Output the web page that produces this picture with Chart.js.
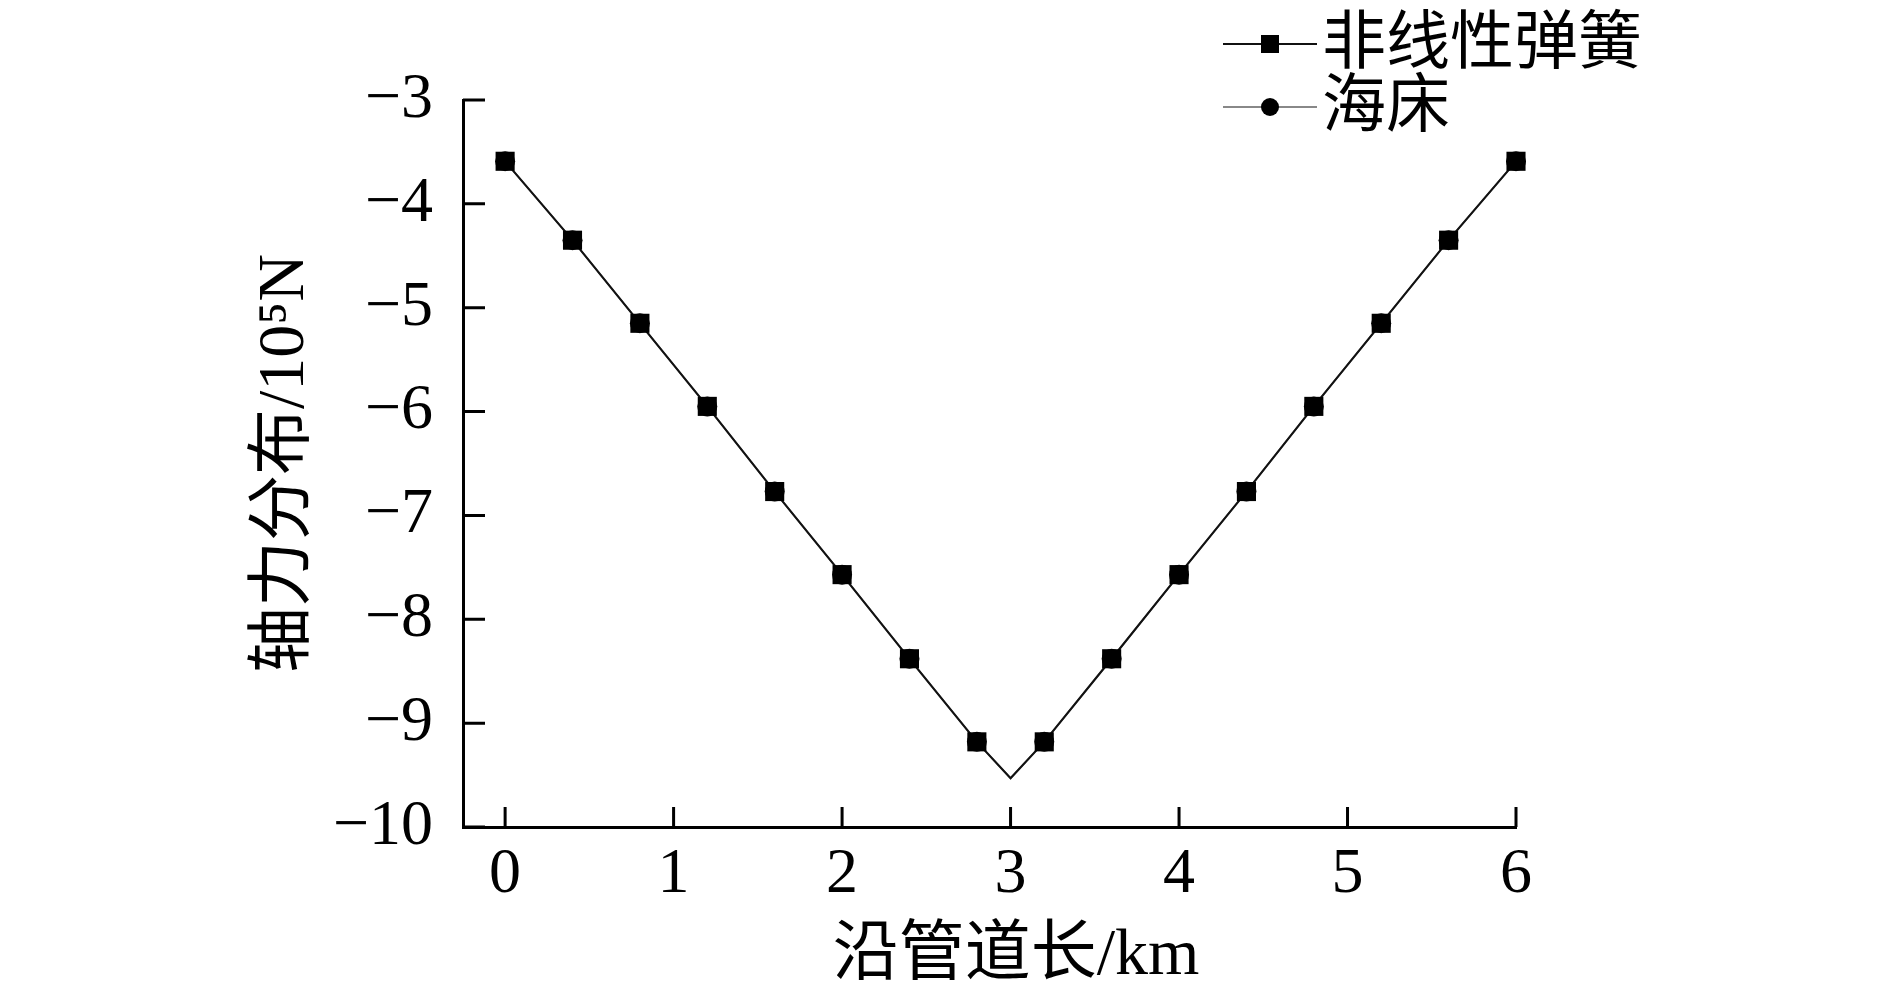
<!DOCTYPE html>
<html>
<head>
<meta charset="utf-8">
<script src="https://cdn.jsdelivr.net/npm/chart.js@4/dist/chart.umd.min.js"></script>
<style>
  body { margin: 0; background: #fff; }
  #wrap { width: 1890px; height: 1004px; }
</style>
</head>
<body>
<div id="wrap"><canvas id="chart" width="1890" height="1004"></canvas></div>
<script>
// distance along the pipe, km
const distance = [0, 0.4, 0.8, 1.2, 1.6, 2.0, 2.4, 2.8, 3.0, 3.2, 3.6, 4.0, 4.4, 4.8, 5.2, 5.6, 6.0];
// axial force, 10^5 N
const springForce = [-3.59, -4.35, -5.15, -5.95, -6.77, -7.57, -8.38, -9.18, -9.53, -9.18, -8.38, -7.57, -6.77, -5.95, -5.15, -4.35, -3.59];
const seabedForce = [-3.59, -4.35, -5.15, -5.95, -6.77, -7.57, -8.38, -9.18, -9.53, -9.18, -8.38, -7.57, -6.77, -5.95, -5.15, -4.35, -3.59];
const seriesNames = ["非线性弹簧", "海床"];
const xTicks = [0, 1, 2, 3, 4, 5, 6];
const yTicks = [-3, -4, -5, -6, -7, -8, -9, -10];
const xTitle = "沿管道长/km";
const yTitle = "轴力分布/10⁵N";

const FONT = '"Liberation Serif", "Noto Sans CJK SC", serif';

const toPoints = (vals) => vals.map((v, i) => ({ x: distance[i], y: v }));
// no marker on the vertex at 3 km
const markerSize = (r) => (ctx) => (distance[ctx.dataIndex] === 3.0 ? 0 : r);

// inward tick marks on both axes
const innerTicks = {
  id: "innerTicks",
  afterDatasetsDraw(chart) {
    const { ctx, chartArea, scales } = chart;
    ctx.save();
    ctx.strokeStyle = "#000";
    ctx.lineWidth = 3;
    ctx.beginPath();
    xTicks.forEach((t) => {
      const px = scales.x.getPixelForValue(t);
      ctx.moveTo(px, chartArea.bottom);
      ctx.lineTo(px, chartArea.bottom - 20);
    });
    yTicks.forEach((t) => {
      const py = scales.y.getPixelForValue(t);
      ctx.moveTo(chartArea.left, py);
      ctx.lineTo(chartArea.left + 22, py);
    });
    ctx.stroke();
    ctx.restore();
  },
};

// x title sits a bit right of the plot centre in the original
const bottomTitle = {
  id: "bottomTitle",
  afterDraw(chart) {
    const { ctx } = chart;
    ctx.save();
    ctx.fillStyle = "#000";
    ctx.font = "66px " + FONT;
    ctx.textAlign = "center";
    ctx.textBaseline = "middle";
    ctx.fillText(xTitle, 1016, 957);
    ctx.restore();
  },
};

// legend in the top right corner: line + marker + name
const cornerLegend = {
  id: "cornerLegend",
  afterDraw(chart) {
    const { ctx } = chart;
    const rows = [44, 107];
    ctx.save();
    chart.data.datasets.forEach((ds, i) => {
      const y = rows[i];
      ctx.strokeStyle = ds.borderColor;
      ctx.lineWidth = 2;
      ctx.beginPath();
      ctx.moveTo(1223, y);
      ctx.lineTo(1317, y);
      ctx.stroke();
      ctx.fillStyle = "#000";
      ctx.beginPath();
      if (ds.pointStyle === "rect") {
        ctx.rect(1261, y - 9, 18, 18);
      } else {
        ctx.arc(1270, y, 9, 0, Math.PI * 2);
      }
      ctx.fill();
      ctx.fillStyle = "#000";
      ctx.font = "64px " + FONT;
      ctx.textAlign = "left";
      ctx.textBaseline = "middle";
      ctx.fillText(ds.label, 1322, y + 2);
    });
    ctx.restore();
  },
};

new Chart(document.getElementById("chart"), {
  type: "line",
  data: {
    datasets: [
      {
        label: seriesNames[0],
        data: toPoints(springForce),
        borderColor: "#111",
        borderWidth: 2,
        pointStyle: "rect",
        pointRadius: markerSize(13.5),
        pointBackgroundColor: "#000",
        pointBorderWidth: 0,
        clip: false,
      },
      {
        label: seriesNames[1],
        data: toPoints(seabedForce),
        borderColor: "#888",
        borderWidth: 2,
        pointStyle: "circle",
        pointRadius: markerSize(10),
        pointBackgroundColor: "#000",
        pointBorderWidth: 0,
        clip: false,
      },
    ],
  },
  plugins: [innerTicks, bottomTitle, cornerLegend],
  options: {
    responsive: false,
    animation: false,
    layout: { padding: { left: 0, right: 374, top: 100, bottom: 0 } },
    plugins: { legend: { display: false }, tooltip: { enabled: false } },
    scales: {
      x: {
        type: "linear",
        min: -0.25,
        max: 6,
        afterBuildTicks: (scale) => {
          scale.ticks = xTicks.map((v) => ({ value: v }));
        },
        afterFit: (scale) => {
          scale.height = 177;
        },
        grid: { display: false },
        border: { display: true, color: "#000", width: 3 },
        ticks: {
          color: "#000",
          padding: 8,
          maxRotation: 0,
          font: { family: FONT, size: 64, lineHeight: 1 },
        },
        title: { display: false },
      },
      y: {
        min: -10,
        max: -3,
        afterBuildTicks: (scale) => {
          scale.ticks = yTicks.map((v) => ({ value: v }));
        },
        afterFit: (scale) => {
          scale.width = 463;
        },
        grid: { display: false },
        border: { display: true, color: "#000", width: 3 },
        ticks: {
          color: "#000",
          padding: 22,
          callback: (v) => String(v).replace("-", "−"),
          font: { family: FONT, size: 64, lineHeight: 1 },
        },
        title: {
          display: true,
          text: yTitle,
          color: "#000",
          padding: { top: 253, bottom: 0 },
          font: { family: FONT, size: 66, lineHeight: 1 },
        },
      },
    },
  },
});
</script>
</body>
</html>
